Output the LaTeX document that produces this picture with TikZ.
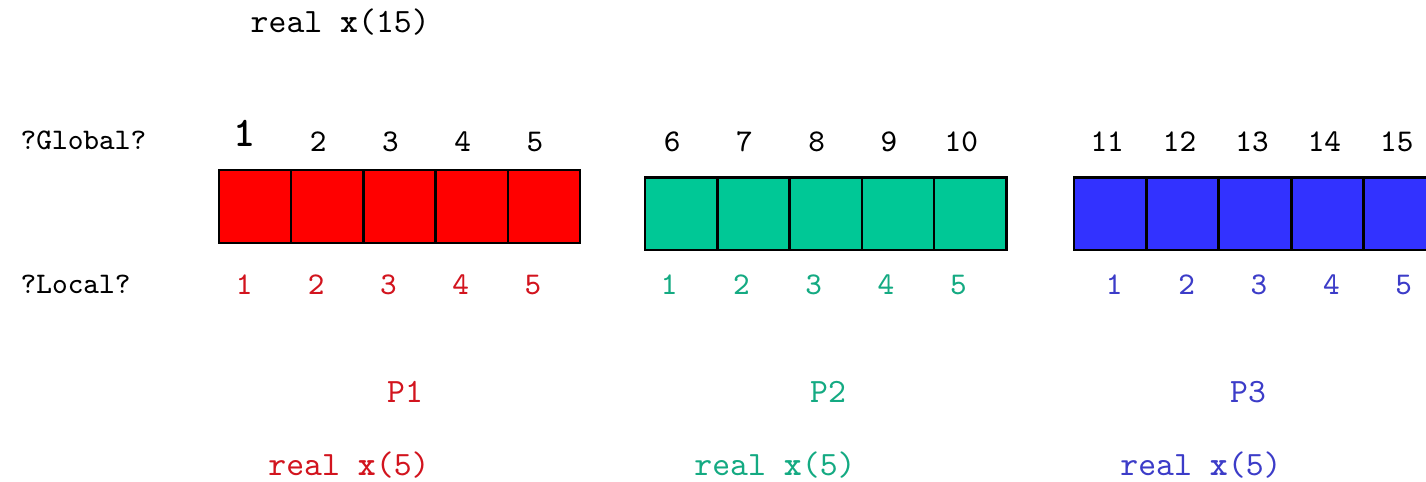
\documentclass[tikz,border=0pt]{standalone}
\usetikzlibrary{positioning}
\definecolor{pone}{RGB}{255,0,0}
\definecolor{ptwo}{RGB}{0,200,150}
\definecolor{pthree}{RGB}{50,50,255}
\definecolor{tone}{RGB}{210,20,30}
\definecolor{ttwo}{RGB}{20,170,130}
\definecolor{tthree}{RGB}{60,60,200}

\begin{document}
\begin{tikzpicture}[x=0.01cm, y=-0.01cm,
    cell/.style={draw=black, line width=0.7pt, minimum width=0.722cm,
                 minimum height=0.725cm, inner sep=0pt, outer sep=0pt},
    txt/.style={font=\ttfamily\fontsize{9.7}{11}\selectfont, inner sep=0pt},
    num/.style={font=\ttfamily\fontsize{9}{11}\selectfont, inner sep=0pt}]
  \useasboundingbox (0,0) rectangle (1426,482);
  \clip (0,0) rectangle (1426,482);

  % --- the whole array ---
  \node[txt, anchor=west] (title) at (250,22) {real \textbf{x}(15)};
  \node[txt, anchor=west, font=\ttfamily\fontsize{8.5}{10}\selectfont] (lblglobal) at (20,140) {?Global?};
  \node[txt, anchor=west, font=\ttfamily\fontsize{8.5}{10}\selectfont] (lbllocal) at (20,284) {?Local?};

  % --- P1 ---
  \foreach \i in {1,...,5}{
    \node[cell, fill=pone] (r\i) at ({219+72.2*(\i-0.5)},206.5) {};
  }
  \node[num, font=\ttfamily\bfseries\fontsize{12}{13}\selectfont] (gr1) at (245,133) {1};
  \foreach \i in {2,...,5}{
    \node[num] (gr\i) at ({219+72.2*(\i-0.5)-9},142) {\i};
  }
  \foreach \i in {1,...,5}{
    \node[num, text=tone] (lr\i) at ({219+72.2*(\i-0.5)-11},285) {\i};
  }
  \node[txt, text=tone] (p1) at (405,392) {P1};
  \node[txt, text=tone] (d1) at (349,465) {real \textbf{x}(5)};

  % --- P2 ---
  \foreach \i [evaluate=\i as \g using int(\i+5)] in {1,...,5}{
    \node[cell, fill=ptwo] (g\i) at ({645+72.3*(\i-0.5)},214) {};
    \node[num] (gg\i) at ({645+72.3*(\i-0.5)-9},142) {\g};
    \node[num, text=ttwo] (lg\i) at ({645+72.3*(\i-0.5)-12},285) {\i};
  }
  \node[txt, text=ttwo] (p2) at (828,392) {P2};
  \node[txt, text=ttwo] (d2) at (775,465) {real \textbf{x}(5)};

  % --- P3 ---
  \foreach \i [evaluate=\i as \g using int(\i+10)] in {1,...,5}{
    \node[cell, fill=pthree] (b\i) at ({1074+72.4*(\i-0.5)},214) {};
    \node[num] (gb\i) at ({1074+72.4*(\i-0.5)-3},142) {\g};
    \node[num, text=tthree] (lb\i) at ({1074+72.4*(\i-0.5)+4},285) {\i};
  }
  \node[txt, text=tthree] (p3) at (1248,392) {P3};
  \node[txt, text=tthree] (d3) at (1201,465) {real \textbf{x}(5)};
\end{tikzpicture}
\end{document}
